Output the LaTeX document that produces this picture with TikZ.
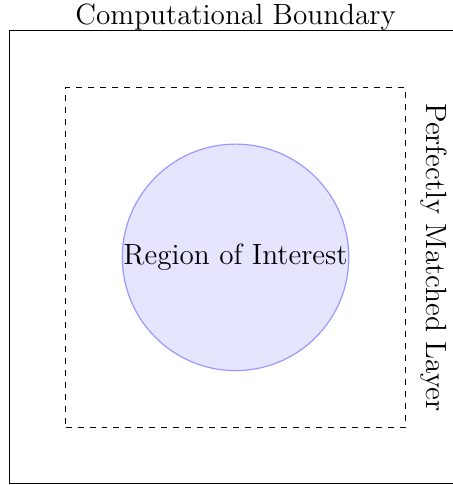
\documentclass[tikz,border=0pt]{standalone}
\usetikzlibrary{shapes, positioning}

\begin{document}
\begin{tikzpicture}[font=\fontsize{14.7}{18}\selectfont]
    \useasboundingbox (-0.16,-0.02) rectangle (7.84,8.545);
    \clip (-0.16,-0.02) rectangle (7.84,8.545);
    % Domain layout
    \node (domain) [draw, rectangle, minimum size=8cm, inner sep=0pt] at (4,4) {};
    \node (pml) [draw, dashed, rectangle, minimum size=6cm, inner sep=0pt] at (4,4) {};
    \node (roi) [draw=blue!40, fill=blue!10, circle, minimum size=4cm, inner sep=0pt, line width=0.6pt] at (4,4) {Region of Interest};
    \node (cb) [above=0pt of domain.north, inner sep=0pt] {Computational Boundary};
    \node (pmllabel) [rotate=-90] at (7.5,4) {Perfectly Matched Layer};
\end{tikzpicture}
\end{document}
